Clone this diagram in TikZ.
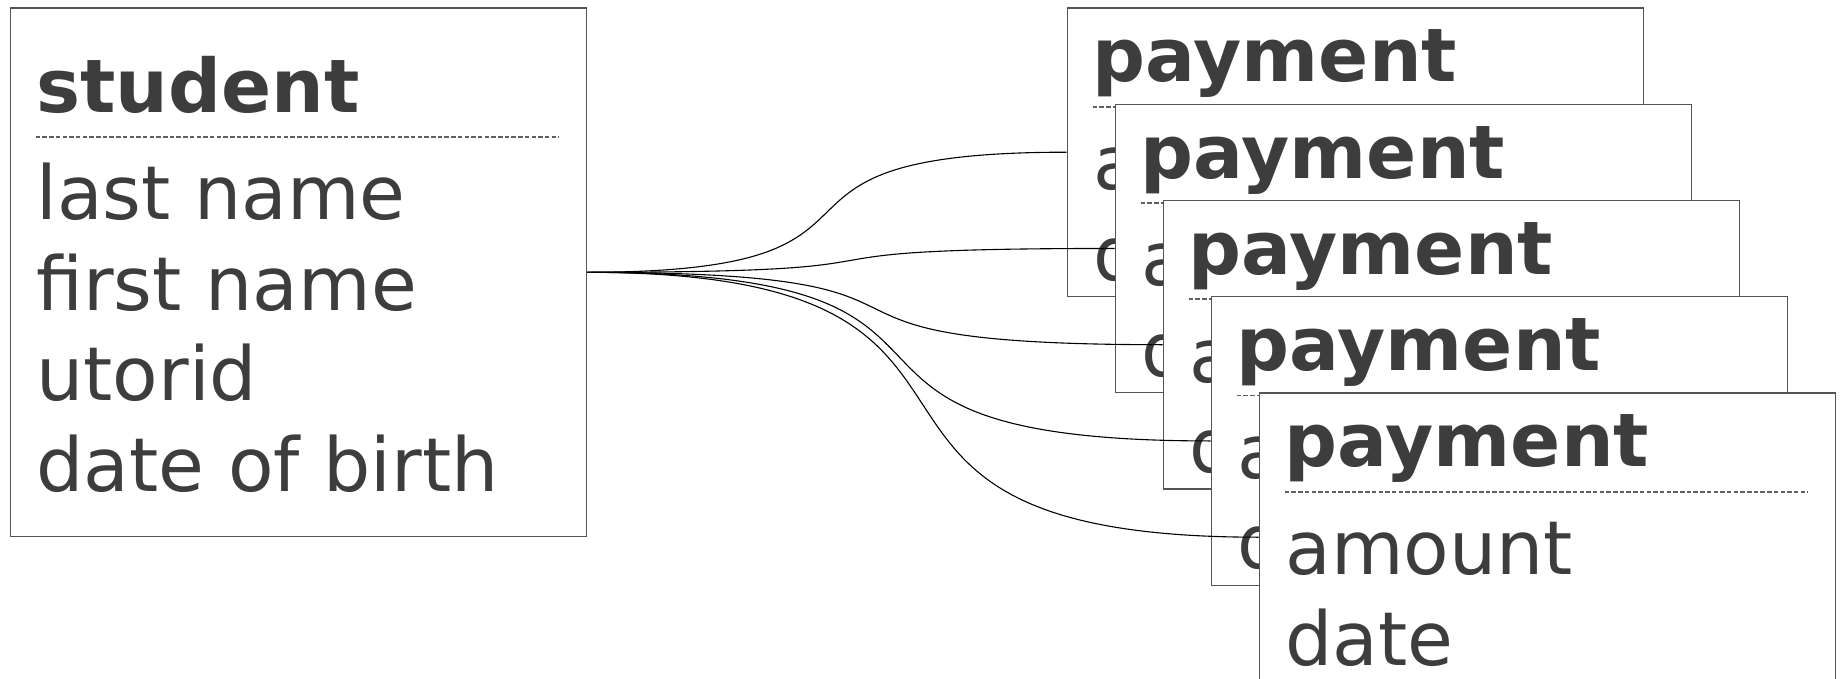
\documentclass[tikz,border=0pt]{standalone}
\usepackage{fontspec}
\setmainfont{DejaVu Sans}
\usetikzlibrary{calc}
\definecolor{txt}{RGB}{61,61,61}
\definecolor{framec}{RGB}{85,85,85}
\definecolor{dashc}{RGB}{95,95,95}
\begin{document}
\begin{tikzpicture}[x=1pt,y=-1pt,
  entity/.style={draw=framec,line width=1.3pt,fill=white,minimum width=576pt,inner sep=0pt,anchor=north west},
  etitle/.style={anchor=base west,inner sep=0pt,text=txt,font=\fontsize{74}{90}\selectfont\bfseries},
  attr/.style={anchor=base west,inner sep=0pt,text=txt,font=\fontsize{74.5}{90}\selectfont},
  divider/.style={draw=dashc,line width=1.8pt,dash pattern=on 4.5pt off 2.2pt},
  link/.style={draw=black,line width=1.1pt}]
\useasboundingbox[fill=white] (0,0) rectangle (1843,679);
% student entity
\node[entity,minimum height=528.7pt] (st) at (9.7,7.3) {};
\node[etitle] (st-t) at ($(st.north west)+(26.4,105.4)$) {student};
\draw[divider] ($(st.north west)+(26,129.4)$) -- ($(st.north west)+(549.3,129.4)$);
\foreach \t [count=\i from 0] in {last name, first name, utorid, date of birth}
  \node[attr] (st-\i) at ($(st.north west)+(26.5,212.5+90.5*\i)$) {\t};
% payment entities
\foreach \k in {1,...,5} {
  \node[entity,minimum height=288.5pt] (p\k) at ({1066.7+48*(\k-1)},{7.3+96.25*(\k-1)}) {};
  \node[etitle] (p\k-t) at ($(p\k.north west)+(26,74.5)$) {payment};
  \draw[divider] ($(p\k.north west)+(26,99.4)$) -- ($(p\k.north west)+(549,99.4)$);
  \node[attr] (p\k-a) at ($(p\k.north west)+(26.5,182.4)$) {amount};
  \node[attr] (p\k-d) at ($(p\k.north west)+(26.5,272.9)$) {date};
}
% connectors
\foreach \k/\d in {1/356,2/391,3/427,4/462,5/498}
  \draw[link] (st.east) .. controls +(\d,0) and +(-\d,0) .. (p\k.west);
\end{tikzpicture}
\end{document}
